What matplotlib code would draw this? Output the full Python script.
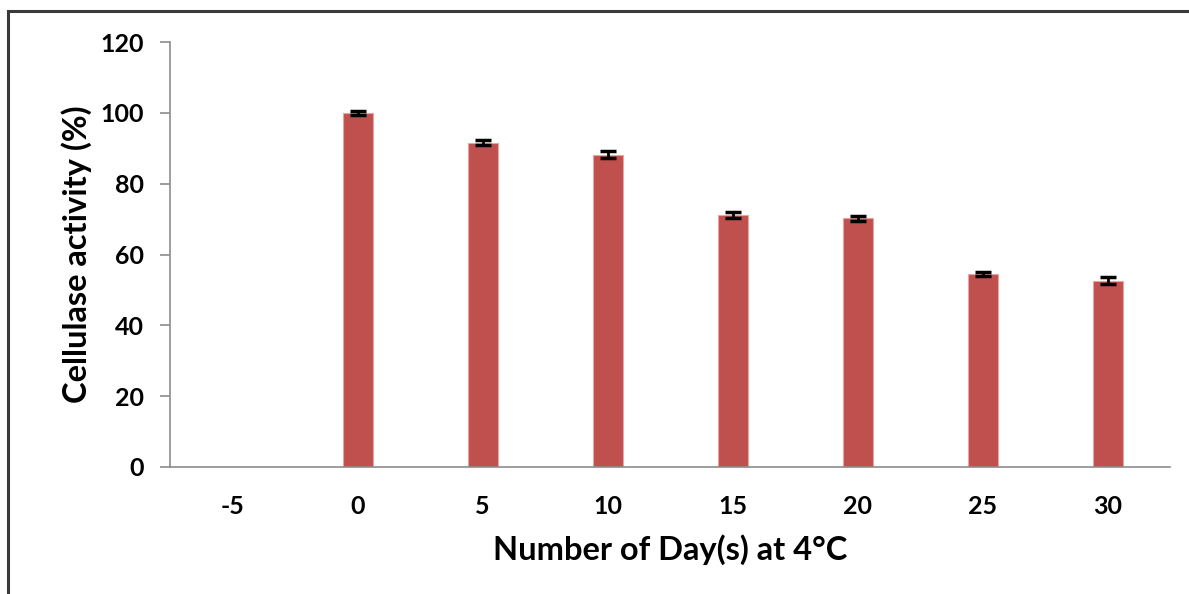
import matplotlib
matplotlib.use("Agg")
import matplotlib.pyplot as plt
from matplotlib.patches import Rectangle

# storage time at 4 °C and residual cellulase activity
days = ["-5", "0", "5", "10", "15", "20", "25", "30"]
activity = [None, 100.0, 91.5, 88.2, 71.1, 70.2, 54.5, 52.6]
errors = [None, 0.5, 0.7, 0.9, 0.9, 0.8, 0.6, 1.0]

plt.rcParams['font.family'] = ['Lato', 'DejaVu Sans']

fig = plt.figure(figsize=(11.89, 5.94), dpi=100)
ax = fig.add_axes([170 / 1189, 1 - 467 / 594, 1000 / 1189, 425 / 594])

# frame around the chart area
fig.add_artist(Rectangle((8 / 1189, -0.1), 1.2, 1 - 11 / 594 + 0.1,
                         transform=fig.transFigure, fill=False,
                         edgecolor="#3A3A3A", linewidth=2.2))

xs = [i for i, v in enumerate(activity) if v is not None]
vals = [activity[i] for i in xs]
errs = [errors[i] for i in xs]

ax.bar(xs, vals, width=0.24, color="#C0504D", edgecolor="#E6A5A3", linewidth=0.8)
ax.errorbar(xs, vals, yerr=errs, fmt="none", ecolor="black",
            elinewidth=2, capsize=6, capthick=2.5)

ax.set_xlim(-0.5, len(days) - 0.5)
ax.set_ylim(0, 120)
ax.set_xticks(range(len(days)))
ax.set_xticklabels(days)
ax.set_yticks(range(0, 121, 20))

for s in ["top", "right"]:
    ax.spines[s].set_visible(False)
ax.spines["left"].set_color("#8C8C8C")
ax.spines["bottom"].set_color("#8C8C8C")
ax.spines["left"].set_linewidth(1.2)
ax.spines["bottom"].set_linewidth(1.2)

ax.tick_params(axis="y", length=7, width=1.2, color="#8C8C8C", pad=12,
               labelsize=18)
ax.tick_params(axis="x", length=0, pad=20, labelsize=18)
for lab in ax.get_xticklabels() + ax.get_yticklabels():
    lab.set_fontweight("bold")

ax.set_xlabel("Number of Day(s) at 4°C", fontsize=23.5, fontweight="bold",
              labelpad=12)
ax.set_ylabel("Cellulase activity (%)", fontsize=23.5, fontweight="bold",
              labelpad=6)

fig.savefig("out.png", dpi=100)
